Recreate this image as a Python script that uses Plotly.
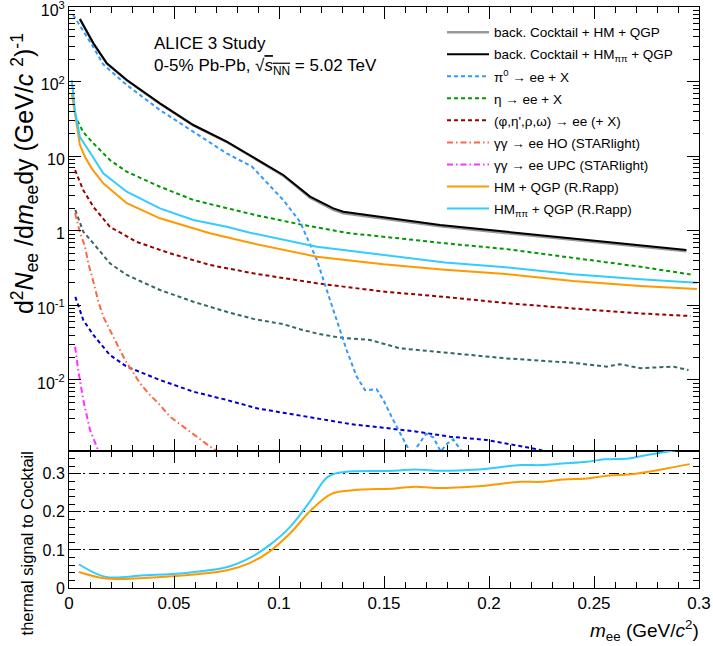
import plotly.graph_objects as go

# ---------------- data ----------------
total_x = [0.0052, 0.0084, 0.0116, 0.018, 0.0275, 0.0433, 0.0592, 0.0751, 0.088, 0.102,
           0.1148, 0.1211, 0.1259, 0.1306, 0.1497, 0.1767, 0.2086, 0.235, 0.265, 0.294]
total_pipi = [690, 467, 326, 176, 105, 51, 26.2, 15.7, 9.6, 5.6,
              2.87, 2.34, 2.0, 1.80, 1.52, 1.2, 0.97, 0.82, 0.67, 0.553]
total_hm = [688, 465, 324, 175, 104, 50.5, 25.9, 15.5, 9.5, 5.5,
            2.78, 2.24, 1.91, 1.72, 1.45, 1.15, 0.93, 0.785, 0.64, 0.53]

pi0_x = [0.002, 0.0052, 0.0084, 0.0116, 0.0163, 0.0275, 0.0433, 0.0592, 0.0751, 0.087,
         0.102, 0.11, 0.118, 0.1243, 0.1275, 0.1322, 0.137, 0.141, 0.1465, 0.1497,
         0.1544, 0.1592, 0.1616, 0.164, 0.166, 0.170, 0.1735, 0.177, 0.180, 0.183, 0.187, 0.19]
pi0_y = [782, 560, 400, 290, 170, 90, 41.6, 21.3, 10.9, 7.3,
         2.59, 1.32, 0.41, 0.118, 0.064, 0.0252, 0.0111, 0.0073, 0.0075, 0.0054,
         0.0029, 0.00157, 0.0012, 0.0010, 0.0013, 0.0019, 0.0017, 0.0011, 0.0014, 0.0016, 0.0011, 0.0007]

eta_x = [0.004, 0.0068, 0.0116, 0.0195, 0.0275, 0.0433, 0.0592, 0.0751, 0.0886, 0.11,
         0.1338, 0.1576, 0.179, 0.208, 0.24, 0.272, 0.296]
eta_y = [30, 21, 14.9, 8.9, 6.2, 3.9, 2.59, 2.0, 1.63, 1.22,
         0.925, 0.79, 0.68, 0.57, 0.43, 0.33, 0.26]

lmv_x = [0.0029, 0.0068, 0.0116, 0.0195, 0.0322, 0.048, 0.0671, 0.0878, 0.118, 0.1497,
         0.179, 0.2086, 0.24, 0.272, 0.296]
lmv_y = [6.5, 3.5, 2.1, 1.13, 0.71, 0.50, 0.348, 0.269, 0.198, 0.153,
         0.13, 0.107, 0.091, 0.078, 0.072]

gg_ho_x = [0.0029, 0.0052, 0.0076, 0.0092, 0.0116, 0.014, 0.0163, 0.0195, 0.0227, 0.0267,
           0.0298, 0.0338, 0.0378, 0.0433, 0.0481, 0.0544, 0.0608, 0.0671, 0.0705, 0.074]
gg_ho_y = [1.73, 0.95, 0.62, 0.366, 0.208, 0.112, 0.0706, 0.0468, 0.031, 0.0185,
           0.0136, 0.00903, 0.00663, 0.00462, 0.00322, 0.00237, 0.00174, 0.00128, 0.00112, 0.0009]

gg_upc_x = [0.0029, 0.0044, 0.0068, 0.01, 0.0132, 0.015]
gg_upc_y = [0.0279, 0.0136, 0.0054, 0.00214, 0.00128, 0.0009]

hm_x = [0.0013, 0.0029, 0.0052, 0.0076, 0.0108, 0.0163, 0.0275, 0.0433, 0.0592, 0.0671,
        0.0862, 0.091, 0.118, 0.1497, 0.179, 0.208, 0.24, 0.272, 0.299]
hm_y = [69.7, 35, 14.1, 9.84, 6.88, 4.33, 2.34, 1.47, 1.08, 0.925,
        0.69, 0.646, 0.45, 0.356, 0.30, 0.264, 0.212, 0.182, 0.166]

hmpp_x = [0.0013, 0.0029, 0.0052, 0.0068, 0.0108, 0.0163, 0.0275, 0.0433, 0.0592, 0.0751,
          0.0862, 0.118, 0.1497, 0.179, 0.208, 0.24, 0.272, 0.299]
hmpp_y = [105, 40, 18, 15.5, 10.4, 5.9, 3.34, 2.0, 1.40, 1.13,
          0.944, 0.612, 0.474, 0.376, 0.324, 0.261, 0.224, 0.201]

slate_x = [0.003, 0.0068, 0.0116, 0.0195, 0.0275, 0.0433, 0.0592, 0.0751, 0.0878, 0.102,
           0.11, 0.118, 0.129, 0.1433, 0.1576, 0.179, 0.208, 0.24, 0.256, 0.2624,
           0.272, 0.2878, 0.295]
slate_y = [1.9, 0.97, 0.68, 0.366, 0.256, 0.161, 0.112, 0.082, 0.066, 0.056,
           0.048, 0.042, 0.037, 0.0344, 0.0266, 0.0232, 0.0195, 0.017, 0.0151, 0.0163,
           0.0144, 0.0151, 0.0136]

dblue_x = [0.003, 0.0068, 0.0116, 0.0195, 0.0275, 0.0433, 0.0592, 0.0751, 0.0894, 0.102,
           0.118, 0.1338, 0.1497, 0.1656, 0.1814, 0.199, 0.2116, 0.221, 0.23]
dblue_y = [0.13, 0.0637, 0.0401, 0.0216, 0.0151, 0.0100, 0.00697, 0.0054, 0.00418, 0.00365,
           0.00307, 0.00257, 0.00229, 0.00203, 0.00174, 0.00157, 0.00135, 0.00121, 0.00105]

ratio_pp_x = [0.0047, 0.0176, 0.0356, 0.0555, 0.0754, 0.0854, 0.0953, 0.1052, 0.1152, 0.1232,
              0.1312, 0.155, 0.165, 0.175, 0.195, 0.2149, 0.2248, 0.2348, 0.2467, 0.2548,
              0.2667, 0.2747, 0.2846, 0.3]
ratio_pp_y = [0.0624, 0.029, 0.0334, 0.0395, 0.055, 0.077, 0.112, 0.16, 0.231, 0.292,
              0.305, 0.308, 0.3116, 0.308, 0.3116, 0.323, 0.323, 0.327, 0.3316, 0.338,
              0.3405, 0.349, 0.358, 0.372]
ratio_hm_x = [0.0047, 0.0176, 0.0356, 0.0555, 0.0754, 0.0854, 0.0953, 0.1052, 0.1152, 0.1252,
              0.1352, 0.155, 0.165, 0.175, 0.195, 0.2149, 0.2248, 0.2348, 0.2467, 0.2548,
              0.2707, 0.2846, 0.2956]
ratio_hm_y = [0.042, 0.0247, 0.0263, 0.0334, 0.0466, 0.064, 0.095, 0.143, 0.2045, 0.248,
              0.257, 0.2616, 0.266, 0.263, 0.2676, 0.279, 0.279, 0.285, 0.288, 0.294,
              0.301, 0.314, 0.3255]

x_tickvals = [0, 0.05, 0.1, 0.15, 0.2, 0.25, 0.3]
x_ticktext = ["0", "0.05", "0.1", "0.15", "0.2", "0.25", "0.3"]
y_tickvals = [1e-2, 1e-1, 1, 10, 100, 1000]
y_ticktext = ["10<sup>-2</sup>", "10<sup>-1</sup>", "1", "10", "10<sup>2</sup>", "10<sup>3</sup>"]
r_tickvals = [0, 0.1, 0.2, 0.3]
r_ticktext = ["0", "0.1", "0.2", "0.3"]

FONT = "Liberation Sans, Arial, Helvetica, sans-serif"

fig = go.Figure()


def add(x, y, name, color, dash, width=2, rank=None, legend=True, xa='x', ya='y', shape='linear'):
    fig.add_trace(go.Scatter(
        x=x, y=y, mode='lines', name=name, legendgroup=name,
        line=dict(color=color, dash=dash, width=width, shape=shape),
        showlegend=legend, legendrank=rank if rank is not None else 1000,
        xaxis=xa, yaxis=ya, hoverinfo='skip'))


DASH = "4px,3px"
DASHDOT = "6px,3px,1.5px,3px"

add(slate_x, slate_y, "slate", "#336666", DASH, legend=False)
add(dblue_x, dblue_y, "dblue", "#0000cc", DASH, legend=False)
add(gg_upc_x, gg_upc_y, "γγ → ee UPC (STARlight)", "#ff33ff", DASHDOT, rank=7)
add(gg_ho_x, gg_ho_y, "γγ → ee HO (STARlight)", "#ff6644", DASHDOT, rank=6)
add(lmv_x, lmv_y, "(φ,η',ρ,ω) → ee (+ X)", "#990000", DASH, rank=5)
add(eta_x, eta_y, "η → ee + X", "#009900", DASH, rank=4)
add(pi0_x, pi0_y, "π<sup>0</sup> → ee + X", "#3399ff", DASH, rank=3)
add(hm_x, hm_y, "HM + QGP (R.Rapp)", "#ff9900", "solid", rank=8)
add(hmpp_x, hmpp_y, "HM<sub>ππ</sub> + QGP (R.Rapp)", "#33ccff", "solid", rank=9)
add(total_x, total_hm, "back. Cocktail + HM + QGP", "#999999", "solid", width=2.5, rank=1)
add(total_x, total_pipi, "back. Cocktail + HM<sub>ππ</sub> + QGP", "black", "solid", rank=2)

add(ratio_pp_x, ratio_pp_y, "r1", "#33ccff", "solid", legend=False, xa='x2', ya='y2', shape='spline')
add(ratio_hm_x, ratio_hm_y, "r2", "#ff9900", "solid", legend=False, xa='x2', ya='y2', shape='spline')

common = dict(showline=True, linecolor='black', linewidth=1, mirror='ticks',
              ticks='inside', ticklen=12, tickwidth=1, tickcolor='black',
              zeroline=False, ticklabeloverflow='allow', automargin=False)

fig.update_layout(
    width=713, height=646,
    margin=dict(l=69, r=14, t=7, b=58, autoexpand=False),
    paper_bgcolor='white', plot_bgcolor='white',
    font=dict(family=FONT, size=16, color='black'),
    legend=dict(x=(442 - 69) / 630, y=0.983, xanchor='left', yanchor='top',
                bgcolor='rgba(0,0,0,0)', borderwidth=0, itemwidth=42,
                font=dict(size=13.5, family=FONT), traceorder='grouped',
                tracegroupgap=1.5),
    xaxis=dict(domain=[0, 1], anchor='y', range=[0, 0.3], showticklabels=False,
               tickvals=x_tickvals, showgrid=False,
               minor=dict(ticks='inside', ticklen=6, dtick=0.01, tick0=0, tickcolor='black'),
               **common),
    yaxis=dict(domain=[0.2358, 1], anchor='x', type='log', range=[-2.952, 3.0004],
               tickvals=y_tickvals, ticktext=y_ticktext, showgrid=False,
               ticklabelshift=3,
               minor=dict(ticks='inside', ticklen=6, dtick='D1', tickcolor='black'),
               **common),
    xaxis2=dict(domain=[0, 1], anchor='y2', range=[0, 0.3], matches='x',
                tickvals=x_tickvals, ticktext=x_ticktext, showgrid=False,
                tickfont=dict(size=17),
                minor=dict(ticks='inside', ticklen=6, dtick=0.01, tick0=0, tickcolor='black'),
                **common),
    yaxis2=dict(domain=[0, 0.2358], anchor='x2', range=[0, 0.36],
                tickvals=r_tickvals, ticktext=r_ticktext,
                minor=dict(ticks='inside', ticklen=6, dtick=0.02, tick0=0, tickcolor='black'),
                showgrid=True, gridcolor='black', gridwidth=1, griddash='10px,4px,2px,4px',
                **common),
)

ann = [
    dict(text="ALICE 3 Study<br>0-5% Pb-Pb, √<span style='text-decoration:overline'><i>s</i><sub>NN</sub></span> = 5.02 TeV",
         x=0.1317, y=0.957, xref='paper', yref='paper', xanchor='left', yanchor='top',
         align='left', showarrow=False, font=dict(size=17)),
    dict(text="d<sup>2</sup><i>N</i><sub>ee</sub> /d<i>m</i><sub>ee</sub>dy (GeV/<i>c</i> <sup>2</sup>)<sup>-1</sup>",
         x=-0.07, y=0.714, xref='paper', yref='paper', xanchor='center', yanchor='middle',
         textangle=-90, showarrow=False, font=dict(size=25)),
    dict(text="thermal signal to Cocktail",
         x=-0.066, y=0.0775, xref='paper', yref='paper', xanchor='center', yanchor='middle',
         textangle=-90, showarrow=False, font=dict(size=16.5)),
    dict(text="<i>m</i><sub>ee</sub> (GeV/<i>c</i><sup>2</sup>)",
         x=1.003, y=-0.074, xref='paper', yref='paper', xanchor='right', yanchor='middle',
         showarrow=False, font=dict(size=19)),
]
fig.update_layout(annotations=ann)

fig.write_html("out.html")
